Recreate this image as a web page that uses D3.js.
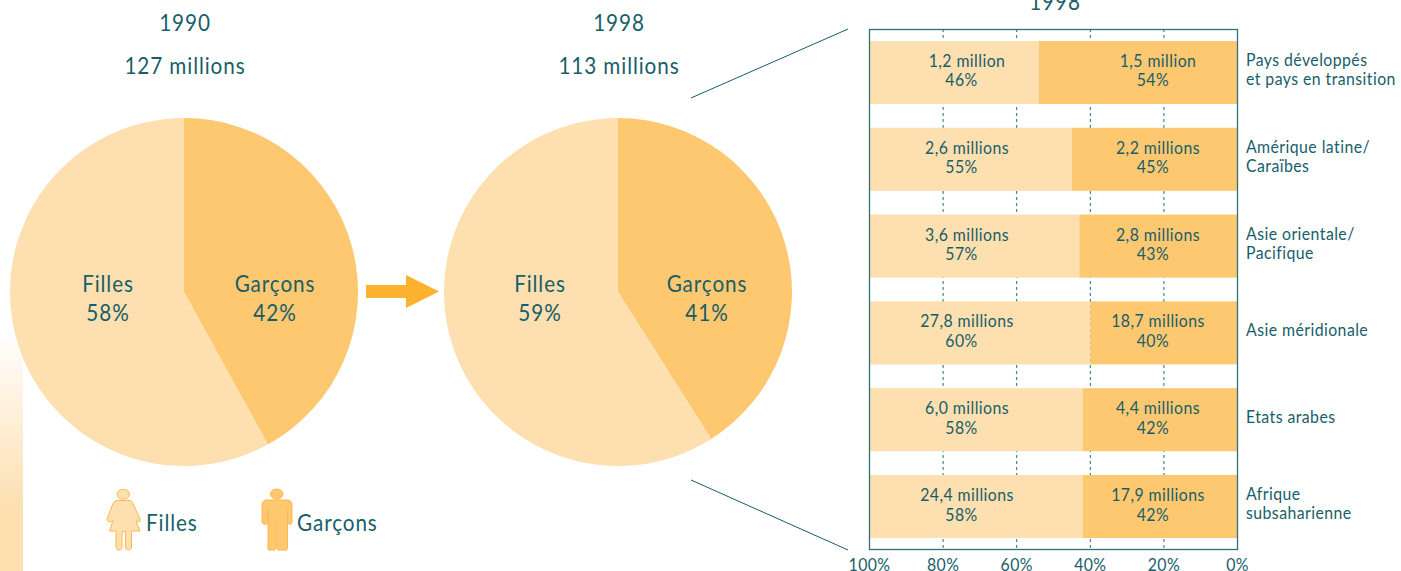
<!DOCTYPE html>
<html><head><meta charset="utf-8">
<script src="https://cdn.jsdelivr.net/npm/d3@7"></script>
<style>html,body{margin:0;padding:0;background:#fff;overflow:hidden}svg{display:block}
text{font-family:Lato,sans-serif;fill:#175e69}</style></head><body>
<svg id="c" width="1401" height="571"></svg>
<script>
const pieYears = ["1990", "1998"];
const pieTotals = ["127 millions", "113 millions"];
const pieGirls = [58, 59];
const pieBoys = [42, 41];
const regions = [["Pays développés","et pays en transition"],["Amérique latine/","Caraïbes"],["Asie orientale/","Pacifique"],["Asie méridionale"],["Etats arabes"],["Afrique","subsaharienne"]];
const girlsCount = ["1,2 million","2,6 millions","3,6 millions","27,8 millions","6,0 millions","24,4 millions"];
const boysCount = ["1,5 million","2,2 millions","2,8 millions","18,7 millions","4,4 millions","17,9 millions"];
const girlsPct = [46,55,57,60,58,58];
const boysPct = [54,45,43,40,42,42];
const ticks = [100,80,60,40,20,0];

const LIGHT="#fddfb0", DARK="#fec871", INK="#175e69";
const svg=d3.select("#c");
function label(g,x,y,str,size,anchor="middle"){
  const big=size>=21;
  return g.append("text").attr("transform",`translate(${x},${y}) scale(${big?0.9:0.88},1)`)
    .attr("text-anchor",anchor).attr("font-size",size)
    .attr("letter-spacing",big?1:0.5).text(str);
}
const grad=svg.append("defs").append("linearGradient").attr("id","strip").attr("x1",0).attr("x2",0).attr("y1",0).attr("y2",1);
grad.append("stop").attr("offset",0).attr("stop-color","#fff");
grad.append("stop").attr("offset",0.75).attr("stop-color",LIGHT);
svg.append("rect").attr("x",0).attr("y",330).attr("width",23).attr("height",241).attr("fill","url(#strip)");

const centers=[184,618], R=174, cy=292;
const pie=d3.pie().sort(null).value(d=>d), arc=d3.arc().innerRadius(0).outerRadius(R);
pieYears.forEach((yr,i)=>{
  const g=svg.append("g");
  const slices=pie([pieBoys[i],pieGirls[i]]);
  g.append("g").attr("transform",`translate(${centers[i]},${cy})`).selectAll("path").data(slices).join("path")
    .attr("d",arc).attr("fill",(d,j)=>j?LIGHT:DARK);
  label(g,centers[i]+1,31,yr,23);
  label(g,centers[i]+1,74,pieTotals[i],23);
  const gx=centers[i]-(i?78:76), bx=centers[i]+(i?89:91);
  label(g,gx,292,"Filles",23);
  label(g,gx,321,pieGirls[i]+"%",23);
  label(g,bx,292,"Garçons",23);
  label(g,bx,321,pieBoys[i]+"%",23);
});
svg.append("path").attr("d","M366,285H406V275L439,291.5L406,308V298H366Z").attr("fill","#fdb22f");
svg.append("path").attr("d","M691,98L848,29M691,480L848,550").attr("stroke",INK).attr("fill","none").attr("stroke-width",1);

const x=d3.scaleLinear().domain([100,0]).range([869.5,1237.5]);
const y=d3.scaleBand().domain(d3.range(regions.length)).range([29,550]).paddingInner(0.274).paddingOuter(0.138);
const bars=svg.append("g");
label(bars,1055,10,"1998",23);
bars.selectAll("line.g").data(ticks.filter(t=>t&&t<100)).join("line").attr("x1",d=>x(d)).attr("x2",d=>x(d))
  .attr("y1",29).attr("y2",549).attr("stroke","#1f7078").attr("stroke-dasharray","3 3").attr("stroke-width",1);
const rows=bars.selectAll("g.r").data(regions).join("g").attr("transform",(d,i)=>`translate(0,${y(i)})`);
rows.each(function(d,i){
  const g=d3.select(this), h=y.bandwidth();
  g.append("rect").attr("x",x(100)).attr("width",x(boysPct[i])-x(100)).attr("height",h).attr("fill",LIGHT);
  g.append("rect").attr("x",x(boysPct[i])).attr("width",x(0)-x(boysPct[i])).attr("height",h).attr("fill",DARK);
  label(g,x(73.5),h/2-5.5,girlsCount[i],18);
  label(g,x(75),h/2+14,girlsPct[i]+"%",18);
  label(g,x(21.6),h/2-5.5,boysCount[i],18);
  label(g,x(23),h/2+14,boysPct[i]+"%",18);
  const lines=d, mid=h/2+3;
  lines.forEach((t,k)=>label(g,1246,mid+(k-(lines.length-1)/2)*19,t,18,"start"));
});
bars.append("rect").attr("x",869.5).attr("y",29.5).attr("width",368).attr("height",520).attr("fill","none").attr("stroke","#2f7079").attr("stroke-width",1.3);
bars.selectAll("text.t").data(ticks).join("text").attr("class","t")
  .attr("transform",d=>`translate(${x(d)},571) scale(0.88,1)`).attr("text-anchor","middle").attr("letter-spacing",0.5).attr("font-size",18).text(d=>d+"%");

const girl="M117.5,500.5H129C131,500.5 132,501.5 133,503.5L140,519C140.8,521 139,522.5 137.5,521.5L136,521L140,531H131.5V547C131.5,551 125.5,551 125.5,547V531.5H122V547C122,551 116,551 116,547V531H109.5L113,520.5L111.5,521.5C109.5,522.5 106.5,521 107,519L113,503.5C114,501.5 115,500.5 117.5,500.5Z";
const boy="M267,500H287C290.5,500 292,502 292,505V522C292,525 288,525 287.5,522V510V547C287.5,551 285,551 284.5,550H279C277.5,551 277,549 277,547V524H276V547C276,549 275,551 273,550H270C268,551 268,549 268,547V510V522C268,525 262,525 262,522V505C262,502 264,500 267,500Z";
const legend=svg.append("g");
legend.append("ellipse").attr("cx",123.3).attr("cy",494.3).attr("rx",6.3).attr("ry",5).attr("fill",LIGHT).attr("stroke","#fdb84a");
legend.append("path").attr("d",girl).attr("fill",LIGHT).attr("stroke","#fdb84a");
legend.append("ellipse").attr("cx",276.7).attr("cy",494).attr("rx",6.3).attr("ry",5).attr("fill",DARK).attr("stroke","#fdb84a");
legend.append("path").attr("d",boy).attr("fill",DARK).attr("stroke","#fdb84a");
label(legend,146,531,"Filles",23,"start");
label(legend,297,531,"Garçons",23,"start");
</script></body></html>
